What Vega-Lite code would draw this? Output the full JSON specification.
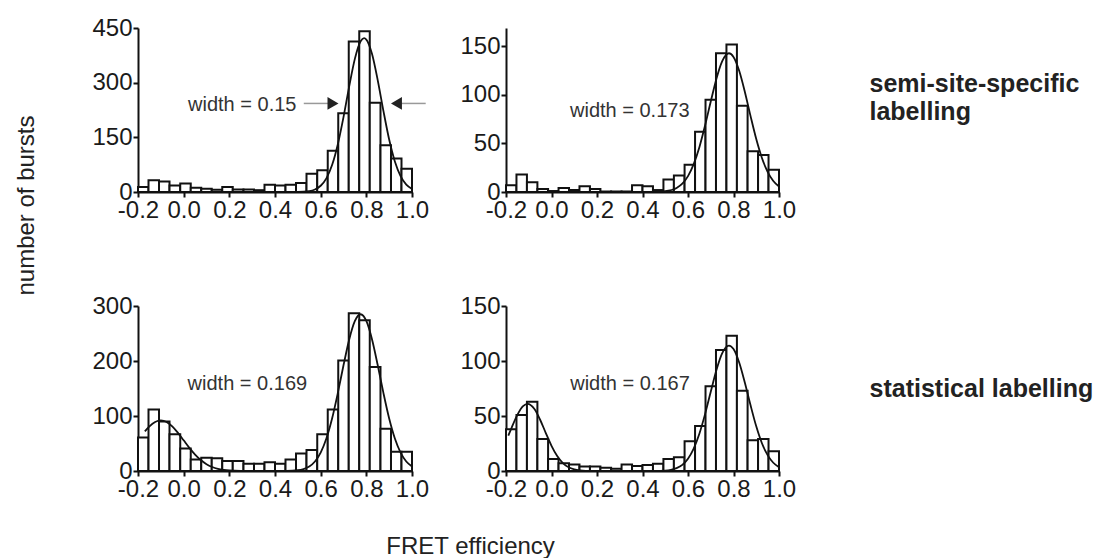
{
"$schema": "https://vega.github.io/schema/vega-lite/v6.json",
"background": "white",
"padding": {"left": 14, "top": 16, "right": 0, "bottom": 0},
"autosize": {"type": "pad"},
"title": {"text": "number of bursts", "orient": "left", "anchor": "middle", "offset": 53, "dx": 82, "font": "Liberation Sans", "fontSize": 24, "fontWeight": "normal", "color": "#222"},
"datasets": {
"p1": [{"x0":-0.2,"x1":-0.154,"n":14},{"x0":-0.154,"x1":-0.108,"n":32},{"x0":-0.108,"x1":-0.062,"n":29},{"x0":-0.062,"x1":-0.015,"n":18},{"x0":-0.015,"x1":0.031,"n":23},{"x0":0.031,"x1":0.077,"n":12},{"x0":0.077,"x1":0.123,"n":9},{"x0":0.123,"x1":0.169,"n":6},{"x0":0.169,"x1":0.215,"n":14},{"x0":0.215,"x1":0.262,"n":7},{"x0":0.262,"x1":0.308,"n":7},{"x0":0.308,"x1":0.354,"n":5},{"x0":0.354,"x1":0.4,"n":20},{"x0":0.4,"x1":0.446,"n":18},{"x0":0.446,"x1":0.492,"n":20},{"x0":0.492,"x1":0.538,"n":25},{"x0":0.538,"x1":0.585,"n":50},{"x0":0.585,"x1":0.631,"n":60},{"x0":0.631,"x1":0.677,"n":113},{"x0":0.677,"x1":0.723,"n":216},{"x0":0.723,"x1":0.769,"n":413},{"x0":0.769,"x1":0.815,"n":441},{"x0":0.815,"x1":0.862,"n":245},{"x0":0.862,"x1":0.908,"n":128},{"x0":0.908,"x1":0.954,"n":92},{"x0":0.954,"x1":1.0,"n":64}],
"p2": [{"x0":-0.2,"x1":-0.154,"n":7},{"x0":-0.154,"x1":-0.108,"n":18},{"x0":-0.108,"x1":-0.062,"n":10},{"x0":-0.062,"x1":-0.015,"n":3},{"x0":-0.015,"x1":0.031,"n":1},{"x0":0.031,"x1":0.077,"n":4},{"x0":0.077,"x1":0.123,"n":2},{"x0":0.123,"x1":0.169,"n":6},{"x0":0.169,"x1":0.215,"n":3},{"x0":0.215,"x1":0.262,"n":0.5},{"x0":0.262,"x1":0.308,"n":0.5},{"x0":0.308,"x1":0.354,"n":0.5},{"x0":0.354,"x1":0.4,"n":7},{"x0":0.4,"x1":0.446,"n":6},{"x0":0.446,"x1":0.492,"n":2},{"x0":0.492,"x1":0.538,"n":13},{"x0":0.538,"x1":0.585,"n":17},{"x0":0.585,"x1":0.631,"n":28},{"x0":0.631,"x1":0.677,"n":62},{"x0":0.677,"x1":0.723,"n":95},{"x0":0.723,"x1":0.769,"n":143},{"x0":0.769,"x1":0.815,"n":152},{"x0":0.815,"x1":0.862,"n":89},{"x0":0.862,"x1":0.908,"n":42},{"x0":0.908,"x1":0.954,"n":38},{"x0":0.954,"x1":1.0,"n":23}],
"p3": [{"x0":-0.2,"x1":-0.154,"n":61},{"x0":-0.154,"x1":-0.108,"n":112},{"x0":-0.108,"x1":-0.062,"n":90},{"x0":-0.062,"x1":-0.015,"n":67},{"x0":-0.015,"x1":0.031,"n":41},{"x0":0.031,"x1":0.077,"n":21},{"x0":0.077,"x1":0.123,"n":24},{"x0":0.123,"x1":0.169,"n":23},{"x0":0.169,"x1":0.215,"n":18},{"x0":0.215,"x1":0.262,"n":18},{"x0":0.262,"x1":0.308,"n":13},{"x0":0.308,"x1":0.354,"n":13},{"x0":0.354,"x1":0.4,"n":16},{"x0":0.4,"x1":0.446,"n":13},{"x0":0.446,"x1":0.492,"n":21},{"x0":0.492,"x1":0.538,"n":32},{"x0":0.538,"x1":0.585,"n":38},{"x0":0.585,"x1":0.631,"n":67},{"x0":0.631,"x1":0.677,"n":112},{"x0":0.677,"x1":0.723,"n":201},{"x0":0.723,"x1":0.769,"n":287},{"x0":0.769,"x1":0.815,"n":274},{"x0":0.815,"x1":0.862,"n":189},{"x0":0.862,"x1":0.908,"n":77},{"x0":0.908,"x1":0.954,"n":35},{"x0":0.954,"x1":1.0,"n":35}],
"p4": [{"x0":-0.2,"x1":-0.154,"n":38},{"x0":-0.154,"x1":-0.108,"n":51},{"x0":-0.108,"x1":-0.062,"n":63},{"x0":-0.062,"x1":-0.015,"n":29},{"x0":-0.015,"x1":0.031,"n":11},{"x0":0.031,"x1":0.077,"n":7},{"x0":0.077,"x1":0.123,"n":6},{"x0":0.123,"x1":0.169,"n":4},{"x0":0.169,"x1":0.215,"n":4},{"x0":0.215,"x1":0.262,"n":3},{"x0":0.262,"x1":0.308,"n":2},{"x0":0.308,"x1":0.354,"n":6},{"x0":0.354,"x1":0.4,"n":4.5},{"x0":0.4,"x1":0.446,"n":5.5},{"x0":0.446,"x1":0.492,"n":6.5},{"x0":0.492,"x1":0.538,"n":11},{"x0":0.538,"x1":0.585,"n":12.5},{"x0":0.585,"x1":0.631,"n":27},{"x0":0.631,"x1":0.677,"n":41},{"x0":0.677,"x1":0.723,"n":77},{"x0":0.723,"x1":0.769,"n":110},{"x0":0.769,"x1":0.815,"n":123},{"x0":0.815,"x1":0.862,"n":73},{"x0":0.862,"x1":0.908,"n":28},{"x0":0.908,"x1":0.954,"n":29},{"x0":0.954,"x1":1.0,"n":18}],
"c1": [{"x":0.45,"y":0},{"x":0.5,"y":0.2},{"x":0.55,"y":2.5},{"x":0.575,"y":6.9},{"x":0.6,"y":17.1},{"x":0.625,"y":37.5},{"x":0.65,"y":73.9},{"x":0.675,"y":130.3},{"x":0.7,"y":205.4},{"x":0.725,"y":289.9},{"x":0.75,"y":366},{"x":0.775,"y":413.6},{"x":0.79,"y":422},{"x":0.8,"y":418.3},{"x":0.825,"y":378.5},{"x":0.85,"y":306.4},{"x":0.875,"y":222},{"x":0.9,"y":143.9},{"x":0.925,"y":83.5},{"x":0.95,"y":43.3},{"x":0.975,"y":20.1},{"x":1.0,"y":8.4}],
"c2": [{"x":0.45,"y":0.1},{"x":0.5,"y":0.8},{"x":0.55,"y":4.2},{"x":0.575,"y":8.6},{"x":0.6,"y":16.4},{"x":0.625,"y":28.7},{"x":0.65,"y":46.2},{"x":0.675,"y":68.5},{"x":0.7,"y":93.2},{"x":0.725,"y":116.8},{"x":0.75,"y":134.6},{"x":0.78,"y":143},{"x":0.8,"y":139.2},{"x":0.825,"y":124.9},{"x":0.85,"y":103.1},{"x":0.875,"y":78.2},{"x":0.9,"y":54.6},{"x":0.925,"y":35.1},{"x":0.95,"y":20.7},{"x":0.975,"y":11.3},{"x":1.0,"y":5.6}],
"c3": [{"x":-0.17,"y":72},{"x":-0.15,"y":81.2},{"x":-0.125,"y":89.2},{"x":-0.1,"y":92},{"x":-0.075,"y":89.2},{"x":-0.05,"y":81.2},{"x":-0.025,"y":69.4},{"x":0,"y":55.8},{"x":0.025,"y":42.1},{"x":0.05,"y":29.9},{"x":0.075,"y":19.9},{"x":0.1,"y":12.4},{"x":0.125,"y":7.3},{"x":0.15,"y":4},{"x":0.175,"y":2.1},{"x":0.2,"y":1},{"x":0.25,"y":0.2},{"x":0.3,"y":0.05},{"x":0.35,"y":0},{"x":0.4,"y":0.02},{"x":0.45,"y":0.17},{"x":0.5,"y":1.4},{"x":0.525,"y":3.6},{"x":0.55,"y":8.2},{"x":0.575,"y":17.3},{"x":0.6,"y":33.4},{"x":0.625,"y":59},{"x":0.65,"y":95.4},{"x":0.675,"y":141.5},{"x":0.7,"y":192.2},{"x":0.725,"y":239.2},{"x":0.75,"y":272.8},{"x":0.775,"y":285},{"x":0.8,"y":272.8},{"x":0.825,"y":239.2},{"x":0.85,"y":192.2},{"x":0.875,"y":141.5},{"x":0.9,"y":95.4},{"x":0.925,"y":59},{"x":0.95,"y":33.4},{"x":0.975,"y":17.3},{"x":1.0,"y":8.2}],
"c4": [{"x":-0.19,"y":32.1},{"x":-0.175,"y":39.5},{"x":-0.15,"y":51},{"x":-0.125,"y":58.9},{"x":-0.105,"y":61},{"x":-0.075,"y":56.3},{"x":-0.05,"y":46.6},{"x":-0.025,"y":34.5},{"x":0,"y":22.9},{"x":0.025,"y":13.6},{"x":0.05,"y":7.2},{"x":0.075,"y":3.4},{"x":0.1,"y":1.5},{"x":0.125,"y":0.6},{"x":0.15,"y":0.2},{"x":0.2,"y":0},{"x":0.3,"y":0},{"x":0.4,"y":0},{"x":0.45,"y":0.05},{"x":0.5,"y":0.4},{"x":0.525,"y":1.1},{"x":0.55,"y":2.6},{"x":0.575,"y":5.6},{"x":0.6,"y":11.2},{"x":0.625,"y":20.4},{"x":0.65,"y":33.9},{"x":0.675,"y":51.7},{"x":0.7,"y":72},{"x":0.725,"y":91.8},{"x":0.75,"y":106.9},{"x":0.78,"y":114},{"x":0.8,"y":110.8},{"x":0.825,"y":98.6},{"x":0.85,"y":80.2},{"x":0.875,"y":59.7},{"x":0.9,"y":40.6},{"x":0.925,"y":25.2},{"x":0.95,"y":14.4},{"x":0.975,"y":7.5},{"x":1.0,"y":3.5}]
},
"vconcat": [
{"hconcat": [
  {"width": 274, "height": 164, "layer": [
    {"data": {"name": "p1"}, "mark": {"type": "bar", "fill": "white", "stroke": "#111", "strokeWidth": 2},
     "encoding": {
       "x": {"field": "x0", "type": "quantitative", "scale": {"domain": [-0.2, 1.0], "nice": false, "zero": false},
             "axis": {"title": null, "values": [-0.2,-0.1,0,0.1,0.2,0.3,0.4,0.5,0.6,0.7,0.8,0.9,1.0], "labelExpr": "abs(round(datum.value*10)) % 2 == 1 ? '' : (datum.value < -0.001 ? '-' : '') + format(abs(datum.value), '.1f')", "tickSize": {"condition": {"test": "abs(round(datum.value*10)) % 2 == 1", "value": 3}, "value": 5}}},
       "x2": {"field": "x1"},
       "y": {"field": "n", "type": "quantitative", "scale": {"domain": [0, 450], "nice": false},
             "axis": {"title": null, "values": [0,75,150,225,300,375,450], "labelExpr": "datum.value % 150 == 0 ? format(datum.value, 'd') : ''", "tickSize": {"condition": {"test": "datum.value % 150 != 0", "value": 3}, "value": 5}}},
       "y2": {"datum": 0}}},
    {"data": {"name": "c1"}, "mark": {"type": "line", "color": "#111", "strokeWidth": 1.8, "interpolate": "monotone"},
     "encoding": {"x": {"field": "x", "type": "quantitative"}, "y": {"field": "y", "type": "quantitative"}}},
    {"data": {"values": [{"x": 0.494, "y": 240, "t": "width = 0.15"}]}, "mark": {"type": "text", "align": "right", "baseline": "middle", "fontSize": 20, "font": "Liberation Sans", "color": "#333"},
     "encoding": {"x": {"field": "x", "type": "quantitative"}, "y": {"field": "y", "type": "quantitative"}, "text": {"field": "t"}}},
    {"data": {"values": [{"a": 0.526, "b": 0.64, "y": 243}, {"a": 0.945, "b": 1.06, "y": 243}]}, "mark": {"type": "rule", "color": "#999", "strokeWidth": 1.5},
     "encoding": {"x": {"field": "a", "type": "quantitative"}, "x2": {"field": "b"}, "y": {"field": "y", "type": "quantitative"}}},
    {"data": {"values": [{"x": 0.654, "y": 243, "s": "triangle-right"}, {"x": 0.932, "y": 243, "s": "triangle-left"}]}, "mark": {"type": "point", "filled": true, "color": "#222", "size": 160, "opacity": 1},
     "encoding": {"x": {"field": "x", "type": "quantitative"}, "y": {"field": "y", "type": "quantitative"}, "shape": {"field": "s", "type": "nominal", "scale": null}}}
  ]},
  {"width": 273, "height": 164, "layer": [
    {"data": {"name": "p2"}, "mark": {"type": "bar", "fill": "white", "stroke": "#111", "strokeWidth": 2},
     "encoding": {
       "x": {"field": "x0", "type": "quantitative", "scale": {"domain": [-0.2, 1.0], "nice": false, "zero": false},
             "axis": {"title": null, "values": [-0.2,-0.1,0,0.1,0.2,0.3,0.4,0.5,0.6,0.7,0.8,0.9,1.0], "labelExpr": "abs(round(datum.value*10)) % 2 == 1 ? '' : (datum.value < -0.001 ? '-' : '') + format(abs(datum.value), '.1f')", "tickSize": {"condition": {"test": "abs(round(datum.value*10)) % 2 == 1", "value": 3}, "value": 5}}},
       "x2": {"field": "x1"},
       "y": {"field": "n", "type": "quantitative", "scale": {"domain": [0, 169], "nice": false},
             "axis": {"title": null, "values": [0,25,50,75,100,125,150], "labelExpr": "datum.value % 50 == 0 ? format(datum.value, 'd') : ''", "tickSize": {"condition": {"test": "datum.value % 50 != 0", "value": 3}, "value": 5}}},
       "y2": {"datum": 0}}},
    {"data": {"name": "c2"}, "mark": {"type": "line", "color": "#111", "strokeWidth": 1.8, "interpolate": "monotone"},
     "encoding": {"x": {"field": "x", "type": "quantitative"}, "y": {"field": "y", "type": "quantitative"}}},
    {"data": {"values": [{"x": 0.344, "y": 83, "t": "width = 0.173"}]}, "mark": {"type": "text", "align": "center", "baseline": "middle", "fontSize": 20, "font": "Liberation Sans", "color": "#333"},
     "encoding": {"x": {"field": "x", "type": "quantitative"}, "y": {"field": "y", "type": "quantitative"}, "text": {"field": "t"}}}
  ]},
  {"width": 1, "height": 164, "data": {"values": [{"t": "semi-site-specific\nlabelling"}]},
   "mark": {"type": "text", "align": "left", "baseline": "middle", "lineBreak": "\n", "lineHeight": 28, "fontSize": 25, "fontWeight": "bold", "font": "Liberation Sans", "color": "#222", "dy": -26, "dx": -4},
   "encoding": {"text": {"field": "t"}}}
 ], "spacing": 94, "bounds": "flush"},
{"hconcat": [
  {"width": 274, "height": 165, "layer": [
    {"data": {"name": "p3"}, "mark": {"type": "bar", "fill": "white", "stroke": "#111", "strokeWidth": 2},
     "encoding": {
       "x": {"field": "x0", "type": "quantitative", "scale": {"domain": [-0.2, 1.0], "nice": false, "zero": false},
             "axis": {"title": null, "values": [-0.2,-0.1,0,0.1,0.2,0.3,0.4,0.5,0.6,0.7,0.8,0.9,1.0], "labelExpr": "abs(round(datum.value*10)) % 2 == 1 ? '' : (datum.value < -0.001 ? '-' : '') + format(abs(datum.value), '.1f')", "tickSize": {"condition": {"test": "abs(round(datum.value*10)) % 2 == 1", "value": 3}, "value": 5}}},
       "x2": {"field": "x1"},
       "y": {"field": "n", "type": "quantitative", "scale": {"domain": [0, 300], "nice": false},
             "axis": {"title": null, "values": [0,50,100,150,200,250,300], "labelExpr": "datum.value % 100 == 0 ? format(datum.value, 'd') : ''", "tickSize": {"condition": {"test": "datum.value % 100 != 0", "value": 3}, "value": 5}}},
       "y2": {"datum": 0}}},
    {"data": {"name": "c3"}, "mark": {"type": "line", "color": "#111", "strokeWidth": 1.8, "interpolate": "monotone"},
     "encoding": {"x": {"field": "x", "type": "quantitative"}, "y": {"field": "y", "type": "quantitative"}}},
    {"data": {"values": [{"x": 0.279, "y": 158, "t": "width = 0.169"}]}, "mark": {"type": "text", "align": "center", "baseline": "middle", "fontSize": 20, "font": "Liberation Sans", "color": "#333"},
     "encoding": {"x": {"field": "x", "type": "quantitative"}, "y": {"field": "y", "type": "quantitative"}, "text": {"field": "t"}}}
  ]},
  {"width": 273, "height": 165, "layer": [
    {"data": {"name": "p4"}, "mark": {"type": "bar", "fill": "white", "stroke": "#111", "strokeWidth": 2},
     "encoding": {
       "x": {"field": "x0", "type": "quantitative", "scale": {"domain": [-0.2, 1.0], "nice": false, "zero": false},
             "axis": {"title": null, "values": [-0.2,-0.1,0,0.1,0.2,0.3,0.4,0.5,0.6,0.7,0.8,0.9,1.0], "labelExpr": "abs(round(datum.value*10)) % 2 == 1 ? '' : (datum.value < -0.001 ? '-' : '') + format(abs(datum.value), '.1f')", "tickSize": {"condition": {"test": "abs(round(datum.value*10)) % 2 == 1", "value": 3}, "value": 5}}},
       "x2": {"field": "x1"},
       "y": {"field": "n", "type": "quantitative", "scale": {"domain": [0, 150], "nice": false},
             "axis": {"title": null, "values": [0,25,50,75,100,125,150], "labelExpr": "datum.value % 50 == 0 ? format(datum.value, 'd') : ''", "tickSize": {"condition": {"test": "datum.value % 50 != 0", "value": 3}, "value": 5}}},
       "y2": {"datum": 0}}},
    {"data": {"name": "c4"}, "mark": {"type": "line", "color": "#111", "strokeWidth": 1.8, "interpolate": "monotone"},
     "encoding": {"x": {"field": "x", "type": "quantitative"}, "y": {"field": "y", "type": "quantitative"}}},
    {"data": {"values": [{"x": 0.345, "y": 79, "t": "width = 0.167"}]}, "mark": {"type": "text", "align": "center", "baseline": "middle", "fontSize": 20, "font": "Liberation Sans", "color": "#333"},
     "encoding": {"x": {"field": "x", "type": "quantitative"}, "y": {"field": "y", "type": "quantitative"}, "text": {"field": "t"}}}
  ]},
  {"width": 1, "height": 165, "data": {"values": [{"t": "statistical labelling"}]},
   "mark": {"type": "text", "align": "left", "baseline": "middle", "fontSize": 25, "fontWeight": "bold", "font": "Liberation Sans", "color": "#222", "dx": -4},
   "encoding": {"text": {"field": "t"}}}
 ], "spacing": 94, "bounds": "flush",
 "title": {"text": "FRET efficiency", "orient": "bottom", "anchor": "middle", "offset": 34, "dx": -122, "font": "Liberation Sans", "fontSize": 24, "fontWeight": "normal", "color": "#222"}}
],
"spacing": 72,
"config": {
  "view": {"stroke": null},
  "font": "Liberation Sans",
  "axis": {"domainColor": "#111", "domainWidth": 2, "tickColor": "#111", "tickWidth": 2, "labelFont": "Liberation Sans", "labelFontSize": 24, "labelColor": "#1a1a1a", "labelPadding": 1, "grid": false, "labelFlush": false, "labelOverlap": false}
}
}
